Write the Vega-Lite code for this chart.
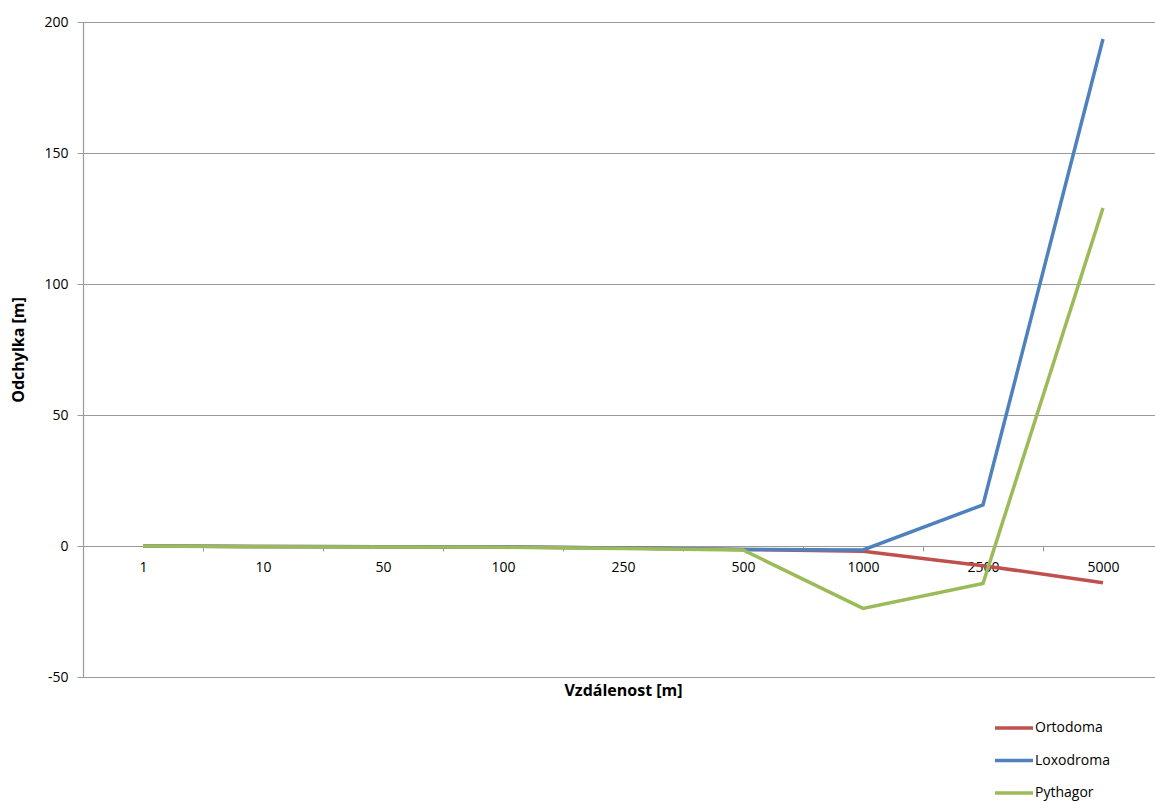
{
  "$schema": "https://vega.github.io/schema/vega-lite/v6.json",
  "width": 1072,
  "height": 655,
  "autosize": {"type": "none"},
  "padding": {"left": 83, "top": 22, "right": 0, "bottom": 124},
  "background": "white",
  "config": {
    "font": "Open Sans",
    "view": {"stroke": null}
  },
  "data": {
    "values": [
      {"d": "1", "s": "Ortodoma", "v": 0},
      {"d": "10", "s": "Ortodoma", "v": -0.2},
      {"d": "50", "s": "Ortodoma", "v": -0.3},
      {"d": "100", "s": "Ortodoma", "v": -0.4},
      {"d": "250", "s": "Ortodoma", "v": -0.8},
      {"d": "500", "s": "Ortodoma", "v": -1.3},
      {"d": "1000", "s": "Ortodoma", "v": -2},
      {"d": "2500", "s": "Ortodoma", "v": -7.5},
      {"d": "5000", "s": "Ortodoma", "v": -14},
      {"d": "1", "s": "Loxodroma", "v": 0},
      {"d": "10", "s": "Loxodroma", "v": -0.2},
      {"d": "50", "s": "Loxodroma", "v": -0.3},
      {"d": "100", "s": "Loxodroma", "v": -0.4},
      {"d": "250", "s": "Loxodroma", "v": -0.8},
      {"d": "500", "s": "Loxodroma", "v": -1.3},
      {"d": "1000", "s": "Loxodroma", "v": -1.5},
      {"d": "2500", "s": "Loxodroma", "v": 15.7},
      {"d": "5000", "s": "Loxodroma", "v": 193.5},
      {"d": "1", "s": "Pythagor", "v": 0},
      {"d": "10", "s": "Pythagor", "v": -0.3},
      {"d": "50", "s": "Pythagor", "v": -0.4},
      {"d": "100", "s": "Pythagor", "v": -0.5},
      {"d": "250", "s": "Pythagor", "v": -1},
      {"d": "500", "s": "Pythagor", "v": -1.5},
      {"d": "1000", "s": "Pythagor", "v": -23.8},
      {"d": "2500", "s": "Pythagor", "v": -14.3},
      {"d": "5000", "s": "Pythagor", "v": 129}
    ]
  },
  "mark": {"type": "line", "strokeWidth": 3.5, "strokeJoin": "miter", "clip": false},
  "encoding": {
    "x": {
      "field": "d",
      "type": "ordinal",
      "sort": null,
      "scale": {"range": [0, 1080], "paddingInner": 0, "paddingOuter": 0},
      "axis": {
        "title": "Vzdálenost [m]",
        "titleFontSize": 16,
        "titleFontWeight": "bold",
        "titleColor": "#000000",
        "titleX": 540,
        "titleY": 136,
        "titleBaseline": "top",
        "titleAnchor": "middle",
        "offset": -131,
        "labelAngle": 0,
        "labelFontSize": 14,
        "labelColor": "#000000",
        "labelPadding": 9,
        "tickBand": "extent",
        "tickSize": 5,
        "tickColor": "#9a9a9a",
        "domainColor": "#9a9a9a",
        "domainWidth": 1.2,
        "grid": false,
        "zindex": 0
      }
    },
    "y": {
      "field": "v",
      "type": "quantitative",
      "scale": {"domain": [-50, 200], "nice": false, "zero": false},
      "axis": {
        "title": "Odchylka [m]",
        "titleFontSize": 16,
        "titleFontWeight": "bold",
        "titleColor": "#000000",
        "titleX": -65,
        "titleBaseline": "middle",
        "titleAnchor": "middle",
        "values": [-50, 0, 50, 100, 150, 200],
        "labelExpr": "toString(datum.value)",
        "labelFontSize": 14,
        "labelColor": "#000000",
        "labelPadding": 9,
        "tickSize": 6,
        "tickColor": "#9a9a9a",
        "domainColor": "#9a9a9a",
        "domainWidth": 1.2,
        "gridColor": "#9a9a9a",
        "gridWidth": 1,
        "grid": true
      }
    },
    "color": {
      "field": "s",
      "type": "nominal",
      "scale": {
        "domain": ["Ortodoma", "Loxodroma", "Pythagor"],
        "range": ["#C0504D", "#4F81BD", "#9BBB59"]
      },
      "legend": {
        "title": null,
        "orient": "none",
        "legendX": 910,
        "legendY": 685,
        "symbolType": "stroke",
        "symbolSize": 1444,
        "symbolStrokeWidth": 3.5,
        "labelFontSize": 14,
        "labelColor": "#000000",
        "labelOffset": 0,
        "rowPadding": 4.5,
        "padding": 0
      }
    },
    "order": {"field": "s", "sort": "ascending"}
  }
}
